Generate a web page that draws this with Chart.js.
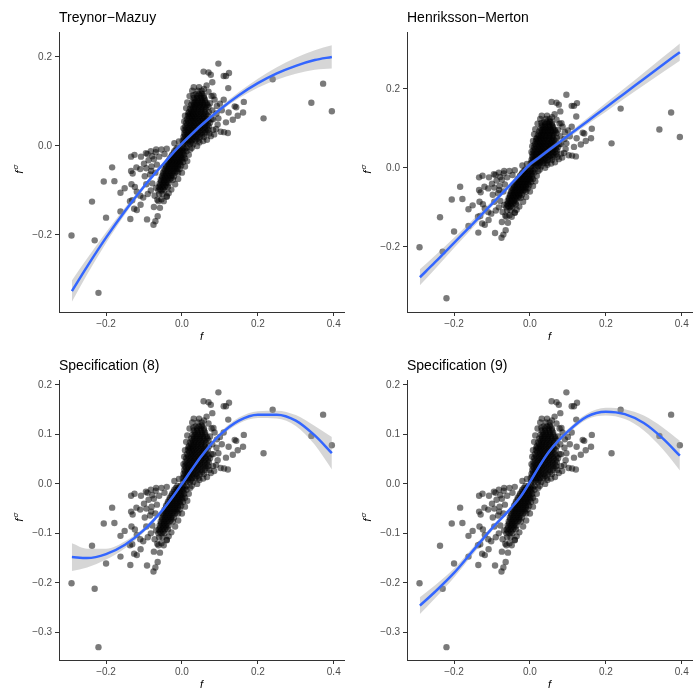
<!DOCTYPE html>
<html>
<head>
<meta charset="utf-8">
<script src="https://cdn.jsdelivr.net/npm/chart.js@4"></script>
<style>
  body { margin: 0; background: #fff; }
  .panel { position: absolute; }
</style>
</head>
<body>
<div class="panel" style="left:0;top:0"><canvas id="c0" width="348" height="346"></canvas></div>
<div class="panel" style="left:348px;top:0"><canvas id="c1" width="348" height="346"></canvas></div>
<div class="panel" style="left:0;top:347px"><canvas id="c2" width="348" height="346"></canvas></div>
<div class="panel" style="left:348px;top:347px"><canvas id="c3" width="348" height="346"></canvas></div>
<script>
// tick labels
const xTicks = [-0.2, 0, 0.2, 0.4];
const yTicksTop = [-0.2, 0, 0.2];
const yTicksBottom = [-0.3, -0.2, -0.1, 0, 0.1, 0.2];

// scattered funds (f, f^sigma), same in every panel
const outliers = [
  [-0.291,-0.201],[-0.220,-0.330],[-0.230,-0.212],[-0.237,-0.125],[-0.200,-0.161],[-0.206,-0.080],
  [-0.184,-0.048],[-0.178,-0.079],[-0.162,-0.147],[-0.162,-0.105],[-0.151,-0.095],[-0.136,-0.164],
  [-0.134,-0.056],[-0.133,-0.086],[-0.131,-0.122],[-0.126,-0.141],[-0.119,-0.144],[-0.109,-0.132],
  [-0.134,-0.024],[-0.125,-0.020],[-0.119,-0.103],[-0.092,-0.165],[-0.075,-0.177],[-0.070,-0.169],
  [-0.074,-0.137],[-0.064,-0.158],[-0.058,-0.139],[-0.065,-0.121],[-0.054,-0.120],[-0.040,-0.113],
  [-0.035,-0.106],[-0.110,-0.112],[-0.102,-0.116],[-0.120,-0.048],[-0.130,-0.062],[-0.124,-0.092],
  [-0.137,-0.124],[-0.081,-0.056],[-0.091,-0.018],[-0.078,-0.023],[-0.069,-0.014],
  [0.096,0.185],[0.057,0.167],[0.070,0.165],[0.076,0.160],[0.124,0.164],[0.110,0.157],[0.116,0.157],
  [0.080,0.143],[0.031,0.132],[0.122,0.130],[0.083,0.113],[0.110,0.104],[0.163,0.099],[0.139,0.089],
  [0.143,0.087],[0.161,0.075],[0.147,0.068],[0.134,0.059],[0.116,0.053],[0.123,0.075],[0.105,0.080],
  [0.102,0.032],[0.111,0.031],[0.121,0.029],[0.215,0.062],[0.239,0.150],[0.341,0.097],[0.372,0.140],
  [0.395,0.078],[0.065,0.136],[0.052,0.118],[0.030,0.114],[0.017,0.073],[0.100,0.095],[0.091,0.073]
];

// loose points round the dense cloud
const halo = [
  [0.004,0.040],[0.006,0.055],[0.008,0.068],[0.011,0.085],[0.014,0.098],[0.020,0.112],[0.027,0.124],
  [0.045,0.132],[0.058,0.128],[0.070,0.122],[0.078,0.112],[0.086,0.104],[0.092,0.090],[0.096,0.062],
  [0.094,0.048],[0.090,0.038],[0.085,0.026],[0.076,0.022],[0.066,0.014],[0.056,0.011],[0.046,0.008],
  [0.040,0.000],[0.026,-0.004],[0.082,0.060],[0.080,0.080],[0.074,0.096],
  [-0.108,-0.024],[-0.095,-0.016],[-0.082,-0.012],[-0.068,-0.008],[-0.054,-0.008],[-0.040,-0.006],
  [-0.100,-0.040],[-0.088,-0.032],[-0.074,-0.030],[-0.060,-0.024],[-0.046,-0.018],
  [-0.110,-0.052],[-0.094,-0.050],[-0.080,-0.046],[-0.066,-0.042],
  [-0.098,-0.068],[-0.084,-0.064],[-0.070,-0.060],
  [-0.094,-0.086],[-0.078,-0.084],[-0.068,-0.094],[-0.082,-0.100],[-0.072,-0.112],
  [-0.090,-0.108],[-0.062,-0.124],[-0.048,-0.124],[-0.040,-0.114],[-0.028,-0.098],[-0.018,-0.086],
  [-0.010,-0.074],[0.000,-0.060],[0.008,-0.046],[0.014,-0.034],[0.018,-0.020],[0.022,-0.008],
  [-0.020,0.006],[-0.008,0.010]
];

// dense cloud, row by row: [f^sigma, [f values]]
const coreRows = [
  [0.124, [0.042,0.052]],
  [0.116, [0.036,0.045,0.054]],
  [0.112, [0.040,0.049,0.058]],
  [0.108, [0.031,0.040,0.049,0.058]],
  [0.104, [0.034,0.043,0.052,0.061]],
  [0.100, [0.028,0.036,0.044,0.052,0.061]],
  [0.096, [0.031,0.039,0.048,0.056,0.065]],
  [0.092, [0.024,0.032,0.040,0.048,0.057,0.067]],
  [0.088, [0.027,0.035,0.044,0.052,0.061,0.070]],
  [0.084, [0.021,0.029,0.037,0.045,0.054,0.063]],
  [0.080, [0.024,0.032,0.041,0.050,0.059]],
  [0.076, [0.018,0.026,0.034,0.042,0.051,0.060,0.071]],
  [0.072, [0.021,0.029,0.037,0.046,0.055,0.064]],
  [0.068, [0.016,0.024,0.032,0.040,0.049,0.058,0.068]],
  [0.064, [0.019,0.027,0.035,0.044,0.053,0.062]],
  [0.060, [0.013,0.022,0.030,0.038,0.047,0.056,0.066,0.078]],
  [0.056, [0.016,0.025,0.033,0.042,0.051,0.060,0.070]],
  [0.052, [0.011,0.020,0.028,0.036,0.045,0.054,0.063,0.074]],
  [0.048, [0.014,0.023,0.031,0.040,0.049,0.058,0.068]],
  [0.044, [0.009,0.018,0.026,0.034,0.043,0.052,0.061,0.071]],
  [0.040, [0.012,0.020,0.029,0.038,0.047,0.056,0.066]],
  [0.036, [0.007,0.016,0.024,0.032,0.041,0.050,0.060,0.070,0.082]],
  [0.032, [0.010,0.018,0.026,0.035,0.044,0.055,0.065]],
  [0.028, [0.006,0.014,0.022,0.030,0.039,0.049,0.060,0.072]],
  [0.024, [0.008,0.016,0.024,0.033,0.043,0.053]],
  [0.020, [0.004,0.012,0.020,0.028,0.037,0.047,0.058]],
  [0.016, [0.006,0.014,0.022,0.031,0.040]],
  [0.012, [0.002,0.010,0.018,0.026,0.035,0.044]],
  [0.008, [0.007,0.016,0.025]],
  [0.004, [0.003,0.012,0.021,0.030]],
  [-0.004, [-0.012,-0.004,0.004,0.012]],
  [-0.008, [-0.016,-0.008,0.000,0.008]],
  [-0.012, [-0.020,-0.012,-0.004,0.004,0.012]],
  [-0.016, [-0.022,-0.014,-0.006,0.002]],
  [-0.020, [-0.026,-0.018,-0.010,-0.002,0.006]],
  [-0.024, [-0.028,-0.020,-0.012,-0.004,0.004]],
  [-0.028, [-0.032,-0.024,-0.016,-0.008,0.000,0.008]],
  [-0.032, [-0.033,-0.025,-0.017,-0.009,-0.001]],
  [-0.036, [-0.037,-0.029,-0.021,-0.013,-0.005,0.003]],
  [-0.040, [-0.038,-0.030,-0.022,-0.014,-0.006]],
  [-0.044, [-0.042,-0.034,-0.026,-0.018,-0.010,-0.002]],
  [-0.048, [-0.042,-0.034,-0.026,-0.018,-0.010]],
  [-0.052, [-0.046,-0.038,-0.030,-0.022,-0.014,-0.006]],
  [-0.056, [-0.046,-0.038,-0.030,-0.022,-0.014]],
  [-0.060, [-0.050,-0.042,-0.034,-0.026,-0.018,-0.010]],
  [-0.064, [-0.049,-0.041,-0.033,-0.025]],
  [-0.068, [-0.053,-0.045,-0.037,-0.029,-0.021]],
  [-0.072, [-0.052,-0.044,-0.036,-0.028]],
  [-0.076, [-0.056,-0.048,-0.040,-0.032,-0.024]],
  [-0.080, [-0.055,-0.047,-0.039]],
  [-0.084, [-0.059,-0.051,-0.043,-0.035]],
  [-0.088, [-0.057,-0.049,-0.041]],
  [-0.092, [-0.061,-0.053,-0.045,-0.037]],
  [-0.096, [-0.058,-0.050]],
  [-0.100, [-0.062,-0.054,-0.046]],
  [-0.108, [-0.060,-0.051]]
];

// fitted curves and their confidence bands, read at these f values
const fitX = [-0.29,-0.25,-0.2,-0.15,-0.1,-0.05,-0.025,0,0.025,0.05,0.1,0.15,0.2,0.25,0.3,0.35,0.395];

const tmFit   = [-0.326,-0.271,-0.206,-0.146,-0.091,-0.041,-0.017,0.005,0.026,0.046,0.082,0.114,0.141,0.163,0.180,0.193,0.200];
const tmUpper = [-0.302,-0.253,-0.194,-0.138,-0.086,-0.037,-0.013,0.009,0.030,0.050,0.087,0.121,0.151,0.177,0.198,0.215,0.226];
const tmLower = [-0.350,-0.289,-0.218,-0.154,-0.096,-0.045,-0.021,0.001,0.022,0.042,0.077,0.107,0.131,0.149,0.162,0.171,0.174];

const hmFit   = [-0.277,-0.239,-0.190,-0.141,-0.091,-0.041,-0.016,0.009,0.027,0.045,0.081,0.117,0.153,0.189,0.225,0.261,0.293];
const hmUpper = [-0.257,-0.222,-0.177,-0.131,-0.084,-0.036,-0.011,0.014,0.032,0.050,0.087,0.125,0.164,0.202,0.241,0.280,0.315];
const hmLower = [-0.297,-0.256,-0.203,-0.151,-0.098,-0.046,-0.021,0.004,0.022,0.040,0.075,0.109,0.142,0.176,0.209,0.242,0.271];

const s8Fit   = [-0.148,-0.150,-0.142,-0.123,-0.093,-0.052,-0.027,0.000,0.028,0.055,0.099,0.128,0.140,0.140,0.128,0.098,0.062];
const s8Upper = [-0.120,-0.131,-0.131,-0.116,-0.088,-0.048,-0.023,0.004,0.032,0.059,0.104,0.134,0.147,0.148,0.139,0.117,0.095];
const s8Lower = [-0.176,-0.169,-0.153,-0.130,-0.098,-0.056,-0.031,-0.004,0.024,0.051,0.094,0.122,0.133,0.132,0.117,0.079,0.029];

const s9Fit   = [-0.246,-0.218,-0.180,-0.135,-0.090,-0.049,-0.026,0.004,0.036,0.065,0.106,0.136,0.146,0.141,0.123,0.092,0.057];
const s9Upper = [-0.229,-0.205,-0.171,-0.128,-0.085,-0.045,-0.022,0.008,0.040,0.069,0.111,0.142,0.154,0.151,0.138,0.114,0.087];
const s9Lower = [-0.263,-0.231,-0.189,-0.142,-0.095,-0.053,-0.030,0.000,0.032,0.061,0.101,0.130,0.138,0.131,0.108,0.070,0.027];

const FONT = '"Liberation Sans", Arial, Helvetica, sans-serif';

// all scatter points
const points = [];
outliers.concat(halo).forEach(p => points.push({ x: p[0], y: p[1] }));
coreRows.forEach(row => row[1].forEach(f => points.push({ x: f, y: row[0] })));

function curve(ys) {
    return fitX.map((x, i) => ({ x: x, y: ys[i] }));
}

function fmt(v) {
    if (Math.abs(v) < 1e-9) return '0.0';
    return (v < 0 ? '\u2212' : '') + Math.abs(v).toFixed(1);
}

// titles and axis labels, drawn the ggplot way
const labelsPlugin = {
    id: 'labels',
    afterDraw(chart, args, opts) {
        const ctx = chart.ctx;
        const a = chart.chartArea;
        ctx.save();
        ctx.fillStyle = '#000';
        ctx.font = '14px ' + FONT;
        ctx.textAlign = 'left';
        ctx.textBaseline = 'alphabetic';
        ctx.fillText(opts.title, a.left, a.top - 10);

        // x title
        ctx.font = 'italic 11px ' + FONT;
        ctx.textAlign = 'center';
        ctx.textBaseline = 'middle';
        ctx.fillText('f', (a.left + a.right) / 2, a.bottom + 25);

        // y title f^sigma, rotated
        ctx.translate(19, (a.top + a.bottom) / 2 - 3);
        ctx.rotate(-Math.PI / 2);
        ctx.textAlign = 'left';
        ctx.textBaseline = 'alphabetic';
        ctx.font = 'italic 11px ' + FONT;
        const w1 = ctx.measureText('f').width;
        ctx.font = 'italic 8px ' + FONT;
        const w2 = ctx.measureText('\u03c3').width;
        const x0 = -(w1 + 1 + w2) / 2;
        ctx.font = 'italic 11px ' + FONT;
        ctx.fillText('f', x0, 4);
        ctx.font = 'italic 8px ' + FONT;
        ctx.fillText('\u03c3', x0 + w1 + 1, -1);
        ctx.restore();
    }
};

function makePanel(id, title, fit, upper, lower, yTicks, yMin, yMax, topPad) {
    const axisColor = '#333333';
    new Chart(document.getElementById(id), {
        type: 'scatter',
        data: {
            datasets: [
                {
                    type: 'line',
                    data: curve(fit),
                    borderColor: '#3366FF',
                    borderWidth: 2.5,
                    pointRadius: 0,
                    cubicInterpolationMode: 'monotone',
                    fill: false
                },
                {
                    type: 'line',
                    data: curve(upper),
                    borderWidth: 0,
                    borderColor: 'rgba(0,0,0,0)',
                    pointRadius: 0,
                    cubicInterpolationMode: 'monotone',
                    fill: false
                },
                {
                    type: 'line',
                    data: curve(lower),
                    borderWidth: 0,
                    borderColor: 'rgba(0,0,0,0)',
                    backgroundColor: 'rgba(153,153,153,0.4)',
                    pointRadius: 0,
                    cubicInterpolationMode: 'monotone',
                    fill: '-1'
                },
                {
                    data: points,
                    backgroundColor: 'rgba(0,0,0,0.52)',
                    pointRadius: 3.2,
                    pointBorderWidth: 0,
                    borderWidth: 0
                }
            ]
        },
        options: {
            responsive: false,
            animation: false,
            layout: { padding: { top: topPad, right: 1, left: 0, bottom: 0 } },
            plugins: {
                legend: { display: false },
                tooltip: { enabled: false },
                labels: { title: title }
            },
            scales: {
                x: {
                    type: 'linear',
                    min: -0.324,
                    max: 0.427,
                    afterBuildTicks: s => { s.ticks = xTicks.map(v => ({ value: v })); },
                    afterFit: s => { s.height = 346 - 312 - (topPad - 32); },
                    ticks: {
                        callback: v => fmt(v),
                        color: '#4D4D4D',
                        font: { family: FONT, size: 10 },
                        padding: 2,
                        maxRotation: 0
                    },
                    grid: { display: true, drawOnChartArea: false, drawTicks: true, tickLength: 4, color: axisColor },
                    border: { display: true, color: axisColor, width: 1 }
                },
                y: {
                    type: 'linear',
                    min: yMin,
                    max: yMax,
                    afterBuildTicks: s => { s.ticks = yTicks.map(v => ({ value: v })); },
                    afterFit: s => { s.width = 59; },
                    ticks: {
                        callback: v => fmt(v),
                        color: '#4D4D4D',
                        font: { family: FONT, size: 10 },
                        padding: 3
                    },
                    grid: { display: true, drawOnChartArea: false, drawTicks: true, tickLength: 4, color: axisColor },
                    border: { display: true, color: axisColor, width: 1 }
                }
            }
        },
        plugins: [labelsPlugin]
    });
}

makePanel('c0', 'Treynor\u2212Mazuy', tmFit, tmUpper, tmLower, yTicksTop, -0.373, 0.256, 32);
makePanel('c1', 'Henriksson\u2212Merton', hmFit, hmUpper, hmLower, yTicksTop, -0.365, 0.344, 32);
makePanel('c2', 'Specification (8)', s8Fit, s8Upper, s8Lower, yTicksBottom, -0.356, 0.210, 33);
makePanel('c3', 'Specification (9)', s9Fit, s9Upper, s9Lower, yTicksBottom, -0.356, 0.210, 33);
</script>
</body>
</html>
